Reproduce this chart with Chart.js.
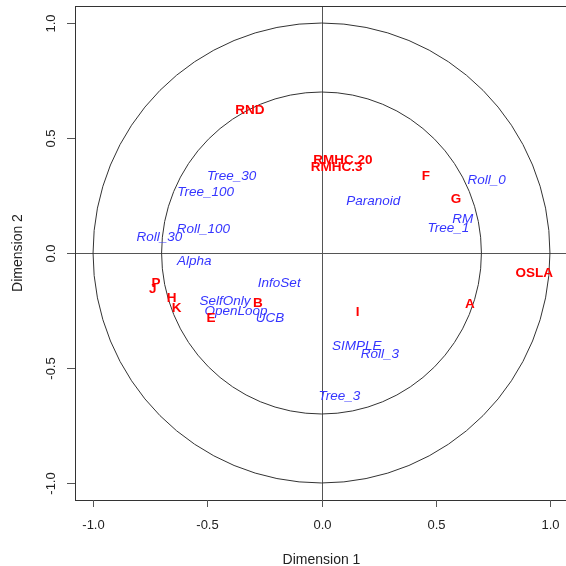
<!DOCTYPE html>
<html>
<head>
<meta charset="utf-8">
<script src="https://cdn.jsdelivr.net/npm/chart.js@4"></script>
<style>
html,body{margin:0;padding:0;overflow:hidden;background:#fff;}
#wrap{width:572px;height:566px;position:relative;}
</style>
</head>
<body>
<div id="wrap"><canvas id="c"></canvas></div>
<script>
// Red (bold) labels
const redLabels = ["RND","RMHC.20","RMHC.3","F","G","OSLA","A","I","P","J","H","K","E","B"];
const redX = [-0.313,0.094,0.066,0.457,0.589,0.931,0.650,0.158,-0.724,-0.739,-0.656,-0.634,-0.484,-0.279];
const redY = [0.622,0.401,0.373,0.332,0.233,-0.088,-0.223,-0.259,-0.132,-0.157,-0.197,-0.240,-0.284,-0.219];

// Blue (italic) labels
const blueLabels = ["Tree_30","Tree_100","Roll_100","Roll_30","Alpha","InfoSet","SelfOnly","OpenLoop","UCB","SIMPLE","Roll_3","Tree_3","Paranoid","Roll_0","RM","Tree_1"];
const blueX = [-0.393,-0.507,-0.517,-0.710,-0.557,-0.185,-0.422,-0.374,-0.225,0.154,0.256,0.078,0.227,0.723,0.618,0.555];
const blueY = [0.332,0.262,0.103,0.067,-0.035,-0.132,-0.209,-0.255,-0.284,-0.407,-0.441,-0.625,0.223,0.317,0.148,0.107];

// Circles and ticks
const circleRadii = [1.0, 0.7];
const tickValues = [-1, -0.5, 0, 0.5, 1];
const tickLabels = ["-1.0","-0.5","0.0","0.5","1.0"];
const xTitle = "Dimension 1";
const yTitle = "Dimension 2";

const FONT = "'Liberation Sans', Arial, sans-serif";

const plotPlugin = {
  id: 'plotPlugin',
  beforeDatasetsDraw(chart) {
    const ctx = chart.ctx, xs = chart.scales.x, ys = chart.scales.y, a = chart.chartArea;
    ctx.save();
    ctx.beginPath(); ctx.rect(a.left, a.top, a.right - a.left, a.bottom - a.top); ctx.clip();
    const cx = xs.getPixelForValue(0), cy = ys.getPixelForValue(0);
    // axes through origin
    ctx.strokeStyle = '#555'; ctx.lineWidth = 1;
    ctx.beginPath();
    ctx.moveTo(a.left, Math.round(cy) + 0.5); ctx.lineTo(a.right, Math.round(cy) + 0.5);
    ctx.moveTo(Math.round(cx) + 0.5, a.top); ctx.lineTo(Math.round(cx) + 0.5, a.bottom);
    ctx.stroke();
    // circles
    ctx.strokeStyle = '#333';
    circleRadii.forEach(r => {
      const rx = xs.getPixelForValue(r) - cx;
      const ry = cy - ys.getPixelForValue(r);
      ctx.beginPath(); ctx.ellipse(cx, cy, rx, ry, 0, 0, Math.PI * 2); ctx.stroke();
    });
    ctx.restore();
  },
  afterDatasetsDraw(chart) {
    const ctx = chart.ctx;
    ctx.save();
    ctx.textAlign = 'center'; ctx.textBaseline = 'middle';
    const mb = chart.getDatasetMeta(0);
    ctx.font = 'italic 13.5px ' + FONT; ctx.fillStyle = '#3535ff';
    blueLabels.forEach((t, i) => { const p = mb.data[i]; ctx.fillText(t, p.x, p.y); });
    const mr = chart.getDatasetMeta(1);
    ctx.font = 'bold 13.5px ' + FONT; ctx.fillStyle = '#ff0000';
    redLabels.forEach((t, i) => { const p = mr.data[i]; ctx.fillText(t, p.x, p.y); });
    ctx.restore();
  },
  afterDraw(chart) {
    const ctx = chart.ctx, xs = chart.scales.x, ys = chart.scales.y, a = chart.chartArea;
    ctx.save();
    // box
    ctx.strokeStyle = '#333'; ctx.lineWidth = 1;
    ctx.strokeRect(Math.round(a.left) + 0.5, Math.round(a.top) + 0.5, a.right - a.left, a.bottom - a.top);
    // ticks
    ctx.strokeStyle = '#555';
    ctx.fillStyle = '#222';
    ctx.font = '13px ' + FONT;
    ctx.textAlign = 'center'; ctx.textBaseline = 'middle';
    tickValues.forEach((v, i) => {
      const px = Math.round(xs.getPixelForValue(v)) + 0.5;
      ctx.beginPath(); ctx.moveTo(px, a.bottom); ctx.lineTo(px, a.bottom + 7); ctx.stroke();
      ctx.fillText(tickLabels[i], px, a.bottom + 25);
      const py = Math.round(ys.getPixelForValue(v)) + 0.5;
      ctx.beginPath(); ctx.moveTo(a.left, py); ctx.lineTo(a.left - 8, py); ctx.stroke();
      ctx.save(); ctx.translate(a.left - 24, py); ctx.rotate(-Math.PI / 2);
      ctx.fillText(tickLabels[i], 0, 0); ctx.restore();
    });
    // titles
    ctx.font = '14px ' + FONT;
    ctx.fillText(xTitle, xs.getPixelForValue(0), a.bottom + 60);
    ctx.save(); ctx.translate(18, ys.getPixelForValue(0)); ctx.rotate(-Math.PI / 2);
    ctx.fillText(yTitle, 0, 0); ctx.restore();
    ctx.restore();
  }
};

new Chart(document.getElementById('c'), {
  type: 'scatter',
  data: {
    datasets: [
      { label: 'blue', data: blueX.map((x, i) => ({ x: x, y: blueY[i] })), pointRadius: 0, pointHoverRadius: 0 },
      { label: 'red', data: redX.map((x, i) => ({ x: x, y: redY[i] })), pointRadius: 0, pointHoverRadius: 0 }
    ]
  },
  options: {
    responsive: true,
    maintainAspectRatio: false,
    animation: false,
    events: [],
    layout: { padding: { left: 75, right: 4, top: 6, bottom: 66 } },
    plugins: { legend: { display: false }, tooltip: { enabled: false } },
    scales: {
      x: { type: 'linear', min: -1.079, max: 1.079, display: false },
      y: { type: 'linear', min: -1.074, max: 1.074, display: false }
    }
  },
  plugins: [plotPlugin]
});
</script>
</body>
</html>
